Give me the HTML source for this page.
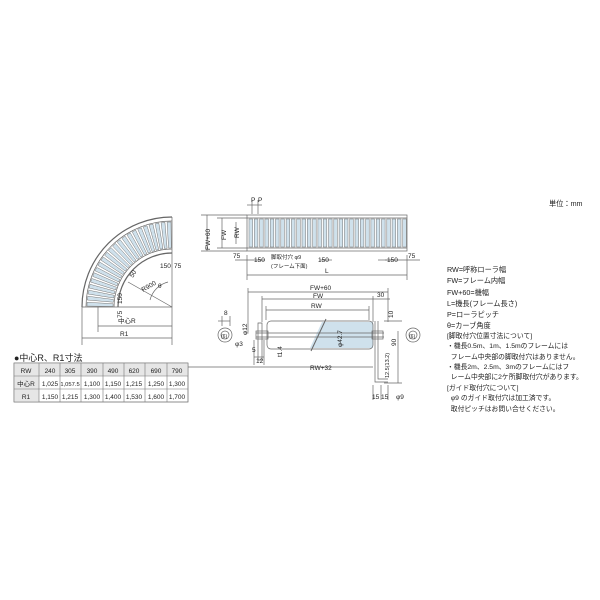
<!DOCTYPE html><html><head><meta charset="utf-8"><style>
body{margin:0;background:#fff;width:600px;height:600px;overflow:hidden;font-family:"Liberation Sans","Noto Sans CJK JP",sans-serif}
svg{position:absolute;left:0;top:0}
text{font-family:"Liberation Sans","Noto Sans CJK JP",sans-serif;fill:#222}
.t{position:absolute;font-size:7.2px;line-height:11.3px;color:#222;white-space:nowrap}
</style></head><body>
<svg id="s" width="600" height="600" viewBox="0 0 600 600">
<g id="curve" stroke="#666" stroke-width="0.7" fill="none">
<path d="M82,307 A90,90 0 0 1 172,217" stroke-width="1.2"/>
<path d="M86,307 A86,86 0 0 1 172,221"/>
<path d="M118,307 A54,54 0 0 1 172,253" stroke-width="1.2"/>
<path d="M114,307 A58,58 0 0 1 172,249"/>
<line x1="82" y1="307" x2="118" y2="307"/>
<line x1="172" y1="217" x2="172" y2="253"/>
<line x1="172" y1="253" x2="172" y2="345"/>
<line x1="118" y1="307" x2="172" y2="307"/>
<line x1="172" y1="307" x2="128" y2="282"/>
<line x1="82" y1="307" x2="82" y2="345"/>
<line x1="98" y1="307" x2="98" y2="332"/>
<line x1="82" y1="338" x2="172" y2="338"/><line x1="98" y1="326" x2="172" y2="326"/>
<path d="M150,300 A25,25 0 0 1 168,282"/>
</g>
<g font-size="6.5"><text x="118" y="323">中心R</text><text x="120" y="336">R1</text>
<text x="143" y="292" transform="rotate(-30 143 292)">R900</text><text x="158" y="288">θ</text>
<text x="160" y="268">150</text><text x="174" y="268">75</text>
<text x="133" y="278" transform="rotate(-60 133 278)">50</text>
<text x="122" y="304" transform="rotate(-90 122 304)">150</text>
<text x="122" y="318" transform="rotate(-90 122 318)">75</text></g>

<g id="top" stroke="#666" stroke-width="0.7" fill="none">
<rect x="247" y="215" width="160" height="36" fill="#fff"/>
<line x1="247" y1="218" x2="407" y2="218"/><line x1="247" y1="248" x2="407" y2="248"/>
<line x1="207" y1="215" x2="207" y2="251"/><line x1="201" y1="215" x2="247" y2="215"/><line x1="201" y1="251" x2="247" y2="251"/>
<line x1="222" y1="218" x2="222" y2="248"/><line x1="217" y1="218" x2="247" y2="218"/><line x1="217" y1="248" x2="247" y2="248"/>
<line x1="236" y1="222" x2="236" y2="244"/>
<line x1="247" y1="255" x2="247" y2="280"/><line x1="407" y1="255" x2="407" y2="280"/>
<line x1="247" y1="275" x2="407" y2="275"/>
<line x1="235" y1="260" x2="265" y2="260"/><line x1="378" y1="260" x2="392" y2="260"/><line x1="385" y1="260" x2="420" y2="260"/>
<line x1="320" y1="260" x2="332" y2="260"/>
<line x1="247" y1="205" x2="262" y2="205"/><line x1="252" y1="200" x2="252" y2="214"/><line x1="258" y1="200" x2="258" y2="214"/>
</g>
<g font-size="6.5"><text x="251" y="202">P</text><text x="258" y="202">P</text>
<text x="210" y="250" transform="rotate(-90 210 250)">FW+60</text><text x="226" y="240" transform="rotate(-90 226 240)">FW</text><text x="239" y="238" transform="rotate(-90 239 238)">RW</text>
<text x="233" y="258">75</text><text x="254" y="262">150</text><text x="271" y="259" font-size="5.5">脚取付穴 φ9</text><text x="271" y="268" font-size="5.5">(フレーム下面)</text>
<text x="318" y="262">150</text><text x="387" y="262">150</text><text x="408" y="258">75</text><text x="325" y="273">L</text></g>

<g id="front" stroke="#666" stroke-width="0.7" fill="none">
<line x1="248" y1="292" x2="388" y2="292"/><line x1="248" y1="288" x2="248" y2="332"/><line x1="388" y1="288" x2="388" y2="322"/>
<line x1="262" y1="299" x2="373" y2="299"/><line x1="262" y1="296" x2="262" y2="322"/><line x1="373" y1="296" x2="373" y2="322"/>
<line x1="266" y1="310" x2="369" y2="310"/><line x1="266" y1="306" x2="266" y2="320"/><line x1="369" y1="306" x2="369" y2="320"/>
<line x1="373" y1="299" x2="390" y2="299"/>
<path d="M322,322 L373,322 L373,348 L310,348 Z" fill="#cfe1ec" stroke="none"/>
<rect x="267" y="321" width="106" height="28" rx="4"/>
<line x1="326" y1="319" x2="311" y2="351" stroke-width="1"/>
<line x1="256" y1="333" x2="384" y2="333"/><line x1="256" y1="337" x2="384" y2="337"/>
<rect x="256" y="331" width="12" height="8"/><rect x="372" y="331" width="11" height="8"/>
<path d="M262,323 L262,360 L258,360 L258,323 Z"/>
<path d="M375,321 L375,382 L388,382 M378,321 L378,379 L388,379"/>
<line x1="166" y1="367" x2="373" y2="367"/><line x1="398" y1="331" x2="398" y2="383"/><line x1="384" y1="321" x2="402" y2="321"/>
<line x1="384" y1="383" x2="402" y2="383"/>
<line x1="254" y1="340" x2="254" y2="365"/><line x1="264" y1="340" x2="264" y2="365"/><line x1="254" y1="357" x2="264" y2="357"/>
<line x1="373" y1="385" x2="373" y2="400"/><line x1="381" y1="385" x2="381" y2="400"/><line x1="388" y1="385" x2="388" y2="400"/>
<line x1="218" y1="321" x2="230" y2="321"/><line x1="222" y1="316" x2="222" y2="326"/><line x1="230" y1="316" x2="230" y2="326"/>
<circle cx="225" cy="335" r="7"/><circle cx="225" cy="335" r="4"/><circle cx="413" cy="335" r="7"/><circle cx="413" cy="335" r="4"/>
</g>
<g font-size="6.5"><text x="310" y="290">FW+60</text><text x="313" y="298">FW</text><text x="311" y="308">RW</text><text x="377" y="297">30</text>
<text x="342" y="347" transform="rotate(-90 342 347)">φ42.7</text><text x="247" y="335" transform="rotate(-90 247 335)">φ12</text>
<text x="235" y="346">φ3</text><text x="252" y="352">5</text><text x="256" y="363">12</text><text x="282" y="357" transform="rotate(-90 282 357)">t1.4</text>
<text x="310" y="370">RW+32</text><text x="396" y="346" transform="rotate(-90 396 346)">90</text><text x="393" y="318" transform="rotate(-90 393 318)">10</text>
<text x="389" y="378" transform="rotate(-90 389 378)" font-size="5.5">12.5(13.2)</text>
<text x="372" y="399">15 15</text><text x="396" y="399">φ9</text><text x="224" y="315">8</text>
<text x="221" y="338" font-size="5">(6)</text><text x="409" y="338" font-size="5">(6)</text></g>

<g font-size="6.5">
<text x="14" y="361" font-size="9">●中心R、R1寸法</text>
<rect x="14" y="363" width="174" height="39" fill="#fff" stroke="#777" stroke-width="0.6"/>
<rect x="14" y="363" width="174" height="13" fill="#e6e6e6"/>
<rect x="14" y="376" width="25" height="26" fill="#e6e6e6"/>
<g stroke="#777" stroke-width="0.6"><line x1="14" y1="376" x2="188" y2="376"/><line x1="14" y1="389" x2="188" y2="389"/>
<line x1="39" y1="363" x2="39" y2="402"/><line x1="60" y1="363" x2="60" y2="402"/><line x1="81" y1="363" x2="81" y2="402"/><line x1="103" y1="363" x2="103" y2="402"/><line x1="124" y1="363" x2="124" y2="402"/><line x1="145" y1="363" x2="145" y2="402"/><line x1="167" y1="363" x2="167" y2="402"/>
<rect x="14" y="363" width="174" height="39" fill="none"/></g>
<g text-anchor="middle">
<text x="26" y="373">RW</text><text x="50" y="373">240</text><text x="70" y="373">305</text><text x="92" y="373">390</text><text x="113" y="373">490</text><text x="134" y="373">620</text><text x="156" y="373">690</text><text x="177" y="373">790</text>
<text x="26" y="386">中心R</text><text x="50" y="386">1,025</text><text x="70" y="386" font-size="5.8">1,057.5</text><text x="92" y="386">1,100</text><text x="113" y="386">1,150</text><text x="134" y="386">1,215</text><text x="156" y="386">1,250</text><text x="177" y="386">1,300</text>
<text x="26" y="399">R1</text><text x="50" y="399">1,150</text><text x="70" y="399">1,215</text><text x="92" y="399">1,300</text><text x="113" y="399">1,400</text><text x="134" y="399">1,530</text><text x="156" y="399">1,600</text><text x="177" y="399">1,700</text>
</g></g>
</svg>
<div class="t" style="left:549px;top:198px">単位：mm</div>
<div class="t" style="left:447px;top:264px">RW=呼称ローラ幅<br>FW=フレーム内幅<br>FW+60=機幅<br>L=機長(フレーム長さ)<br>P=ローラピッチ<br>θ=カーブ角度</div>
<div class="t" style="left:447px;top:332px;font-size:6.8px;line-height:10.3px">[脚取付穴位置寸法について]<br>・機長0.5m、1m、1.5mのフレームには<br>&nbsp;&nbsp;フレーム中央部の脚取付穴はありません。<br>・機長2m、2.5m、3mのフレームにはフ<br>&nbsp;&nbsp;レーム中央部に2ケ所脚取付穴があります。</div>
<div class="t" style="left:447px;top:384px;font-size:6.8px;line-height:10.3px">[ガイド取付穴について]<br>&nbsp;&nbsp;φ9 のガイド取付穴は加工済です。<br>&nbsp;&nbsp;取付ピッチはお問い合せください。</div>
<script>
var NS="http://www.w3.org/2000/svg",c=document.getElementById("curve"),t=document.getElementById("top");
function el(p,tag,a){var e=document.createElementNS(NS,tag);for(var k in a)e.setAttribute(k,a[k]);p.appendChild(e);}
for(var i=0;i<22;i++){var a0=(i*4.1+0.6)*Math.PI/180,a1=a0+2.6*Math.PI/180,cx=172,cy=307;
function P(r,a){return (cx-r*Math.cos(a)).toFixed(1)+","+(cy-r*Math.sin(a)).toFixed(1);}
el(c,"polygon",{points:P(59,a0)+" "+P(85,a0)+" "+P(85,a1)+" "+P(59,a1),fill:"#cfe1ec",stroke:"#777","stroke-width":"0.5"});}
for(var x=249;x<404;x+=5.3){el(t,"rect",{x:x,y:219,width:3.6,height:28,fill:"#cfe1ec",stroke:"#777","stroke-width":"0.5"});}
</script>
</body></html>
